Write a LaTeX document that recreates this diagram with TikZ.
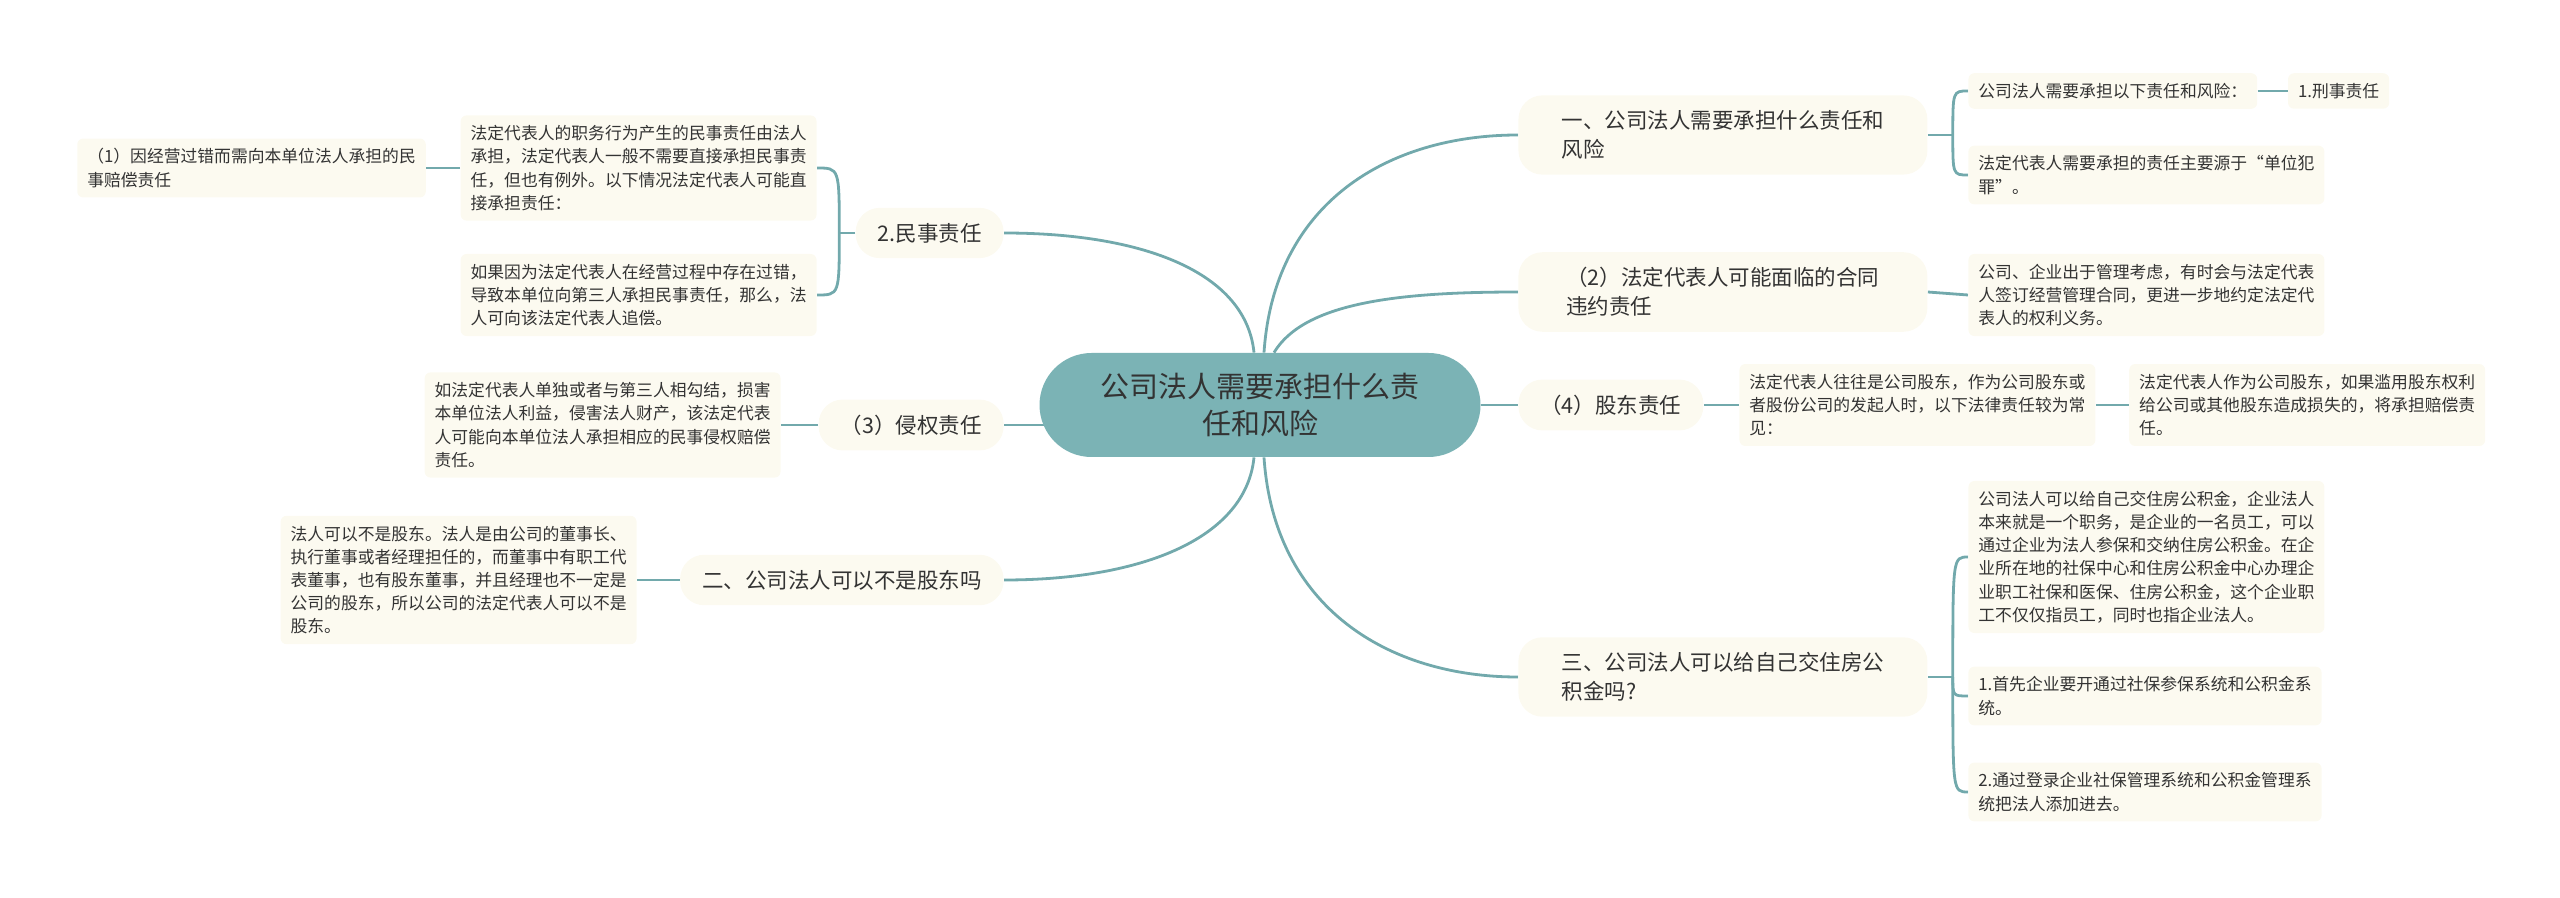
\documentclass[tikz,border=0pt]{standalone}
\usepackage{fontspec}
\setmainfont{Noto Sans CJK SC}
\usetikzlibrary{positioning,backgrounds}
\definecolor{MMTeal}{HTML}{7BB3B5}
\definecolor{MMLine}{HTML}{72A9AC}
\definecolor{MMCream}{HTML}{FCFAF0}
\definecolor{MMText}{HTML}{333333}

\begin{document}
\begin{tikzpicture}[
    x=0.5pt, y=-0.5pt,
    node distance=15pt,
    rootnode/.style={
      fill=MMTeal,
      rounded corners=26pt,
      minimum width=220.5pt,
      minimum height=52pt,
      align=center,
      text=MMText,
      font=\fontsize{14.5pt}{18.8pt}\selectfont
    },
    topic/.style={
      fill=MMCream,
      rounded corners=12pt,
      inner xsep=11pt,
      inner ysep=7.6pt,
      align=left,
      text=MMText,
      font=\fontsize{10.75pt}{14.5pt}\selectfont
    },
    widetopic/.style={
      topic,
      minimum width=204.5pt
    },
    leaf/.style={
      fill=MMCream,
      rounded corners=3pt,
      inner xsep=5pt,
      inner ysep=5pt,
      align=left,
      text=MMText,
      font=\fontsize{8.4pt}{11.6pt}\selectfont
    },
    link/.style={
      draw=MMLine,
      line width=1.4pt
    }
  ]
  \useasboundingbox (0,0) rectangle (2560,898);

  % 中心主题
  \node[rootnode] (root) at (1260,405) {公司法人需要承担什么责\\任和风险};

  % 右侧一级分支
  \node[widetopic, anchor=west] (duty) at (1518,135) {一、公司法人需要承担什么责任和\\风险};
  \node[widetopic, anchor=west] (contract) at (1518,292) {（2）法定代表人可能面临的合同\\违约责任};
  \node[topic, anchor=west] (holder) at (1518,405) {（4）股东责任};
  \node[widetopic, anchor=west] (fund) at (1518,677) {三、公司法人可以给自己交住房公\\积金吗?};

  % 左侧一级分支
  \node[topic, anchor=east] (civil) at (1004,233) {2.民事责任};
  \node[topic, anchor=east] (tort) at (1004,425) {（3）侵权责任};
  \node[topic, anchor=east] (notholder) at (1004,580) {二、公司法人可以不是股东吗};

  % 右侧叶子
  \node[leaf, anchor=west] (dutyA) at (1968,91) {公司法人需要承担以下责任和风险：};
  \node[leaf, right=15pt of dutyA] (crime) {1.刑事责任};
  \node[leaf, anchor=west] (dutyB) at (1968,175) {法定代表人需要承担的责任主要源于“单位犯\\罪”。};
  \node[leaf, anchor=west] (contractA) at (1968,295) {公司、企业出于管理考虑，有时会与法定代表\\人签订经营管理合同，更进一步地约定法定代\\表人的权利义务。};
  \node[leaf, anchor=west] (holderA) at (1739,405) {法定代表人往往是公司股东，作为公司股东或\\者股份公司的发起人时，以下法律责任较为常\\见：};
  \node[leaf, right=16.5pt of holderA] (holderB) {法定代表人作为公司股东，如果滥用股东权利\\给公司或其他股东造成损失的，将承担赔偿责\\任。};
  \node[leaf, anchor=west] (fundA) at (1968,557) {公司法人可以给自己交住房公积金，企业法人\\本来就是一个职务，是企业的一名员工，可以\\通过企业为法人参保和交纳住房公积金。在企\\业所在地的社保中心和住房公积金中心办理企\\业职工社保和医保、住房公积金，这个企业职\\工不仅仅指员工，同时也指企业法人。};
  \node[leaf, anchor=west] (fundB) at (1968,696) {1.首先企业要开通过社保参保系统和公积金系\\统。};
  \node[leaf, anchor=west] (fundC) at (1968,792) {2.通过登录企业社保管理系统和公积金管理系\\统把法人添加进去。};

  % 左侧叶子
  \node[leaf, anchor=east] (civilA) at (817,168) {法定代表人的职务行为产生的民事责任由法人\\承担，法定代表人一般不需要直接承担民事责\\任，但也有例外。以下情况法定代表人可能直\\接承担责任：};
  \node[leaf, left=17pt of civilA] (fault) {（1）因经营过错而需向本单位法人承担的民\\事赔偿责任};
  \node[leaf, anchor=east] (civilB) at (817,295) {如果因为法定代表人在经营过程中存在过错，\\导致本单位向第三人承担民事责任，那么，法\\人可向该法定代表人追偿。};
  \node[leaf, anchor=east] (tortA) at (781,425) {如法定代表人单独或者与第三人相勾结，损害\\本单位法人利益，侵害法人财产，该法定代表\\人可能向本单位法人承担相应的民事侵权赔偿\\责任。};
  \node[leaf, anchor=east] (notholderA) at (637,580) {法人可以不是股东。法人是由公司的董事长、\\执行董事或者经理担任的，而董事中有职工代\\表董事，也有股东董事，并且经理也不一定是\\公司的股东，所以公司的法定代表人可以不是\\股东。};

  % 分支连线
  \begin{scope}[on background layer]
    \draw[link] ([xshift=2pt]root.north) .. controls +(5pt,75pt) and +(-65pt,0pt) .. (duty.west);
    \draw[link] ([xshift=7pt]root.north) .. controls +(15pt,25pt) and +(-60pt,0pt) .. (contract.west);
    \draw[link] (root.east) -- (holder.west);
    \draw[link] ([xshift=2pt]root.south) .. controls +(5pt,-75pt) and +(-65pt,0pt) .. (fund.west);
    \draw[link] ([xshift=-3pt]root.north) .. controls +(-4pt,40pt) and +(70pt,0pt) .. (civil.east);
    \draw[link] (tort.east) -- (root.center |- tort.east);
    \draw[link] ([xshift=-3pt]root.south) .. controls +(-4pt,-40pt) and +(70pt,0pt) .. (notholder.east);

    % 右侧叶子连线
    \coordinate (dutyJ) at ([xshift=12.5pt]duty.east);
    \draw[link] (duty.east) -- (dutyJ);
    \draw[link] (dutyJ) .. controls (dutyJ |- dutyA.west) .. (dutyA.west);
    \draw[link] (dutyJ) .. controls (dutyJ |- dutyB.west) .. (dutyB.west);
    \draw[link] (dutyA.east) -- (crime.west);
    \draw[link] (contract.east) -- (contractA.west);
    \draw[link] (holder.east) -- (holderA.west);
    \draw[link] (holderA.east) -- (holderB.west);
    \coordinate (fundJ) at ([xshift=12.5pt]fund.east);
    \draw[link] (fund.east) -- (fundJ);
    \draw[link] (fundJ) .. controls (fundJ |- fundA.west) .. (fundA.west);
    \draw[link] (fundJ) .. controls (fundJ |- fundB.west) .. (fundB.west);
    \draw[link] (fundJ) .. controls (fundJ |- fundC.west) .. (fundC.west);

    % 左侧叶子连线
    \coordinate (civilJ) at ([xshift=-8pt]civil.west);
    \draw[link] (civil.west) -- (civilJ);
    \draw[link] (civilJ) .. controls (civilJ |- civilA.east) .. (civilA.east);
    \draw[link] (civilJ) .. controls (civilJ |- civilB.east) .. (civilB.east);
    \draw[link] (civilA.west) -- (fault.east);
    \draw[link] (tort.west) -- (tortA.east);
    \draw[link] (notholder.west) -- (notholderA.east);
  \end{scope}
\end{tikzpicture}
\end{document}
